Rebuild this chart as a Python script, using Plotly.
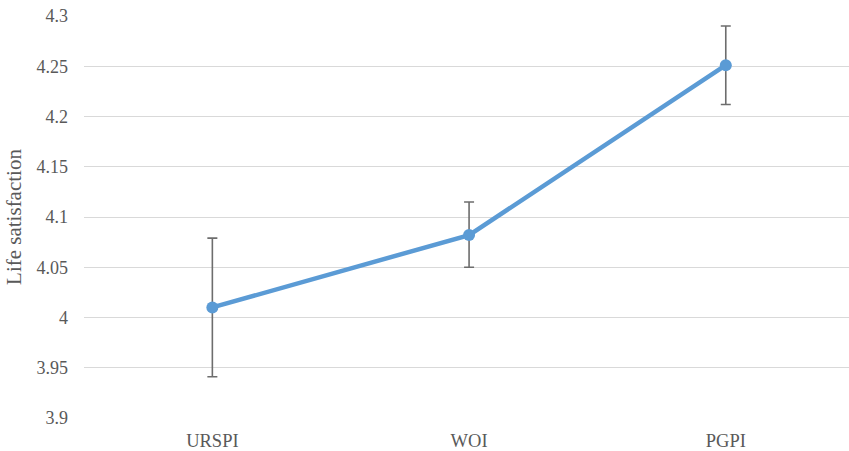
import plotly.graph_objects as go

categories = ["URSPI", "WOI", "PGPI"]
means = [4.01, 4.082, 4.251]
err_plus = [0.069, 0.033, 0.039]
err_minus = [0.069, 0.032, 0.039]
tick_vals = [3.9, 3.95, 4.0, 4.05, 4.1, 4.15, 4.2, 4.25, 4.3]
tick_text = ["3.9", "3.95", "4", "4.05", "4.1", "4.15", "4.2", "4.25", "4.3"]

fig = go.Figure()
fig.add_trace(go.Scatter(
    x=categories, y=means, mode="lines+markers",
    line=dict(color="#5B9BD5", width=4.5),
    marker=dict(color="#5B9BD5", size=12),
    error_y=dict(type="data", symmetric=False, array=err_plus, arrayminus=err_minus,
                 color="#6d6d6d", thickness=1.6, width=5),
    showlegend=False,
))
fig.update_layout(
    width=849, height=451,
    margin=dict(l=84, r=0, t=16, b=33),
    paper_bgcolor="white", plot_bgcolor="white",
    font=dict(family="Liberation Serif", color="#595959", size=18),
    xaxis=dict(showgrid=False, showline=False, ticks="", tickfont=dict(size=18.5),
               range=[-0.5, 2.48], ticklabelstandoff=9),
    yaxis=dict(range=[3.9, 4.3], tickvals=tick_vals, ticktext=tick_text,
               showgrid=True, gridcolor="#d9d9d9", gridwidth=1.3, zeroline=False,
               showline=False, ticks="", tickfont=dict(size=18),
               ticklabelstandoff=15,
               title=dict(text="Life satisfaction", font=dict(size=21), standoff=9)),
)
fig.write_html(
    "out.html",
    config={"displayModeBar": False},
    post_script="document.body.style.margin='0';document.documentElement.style.overflow='hidden';document.body.style.overflow='hidden';",
)
